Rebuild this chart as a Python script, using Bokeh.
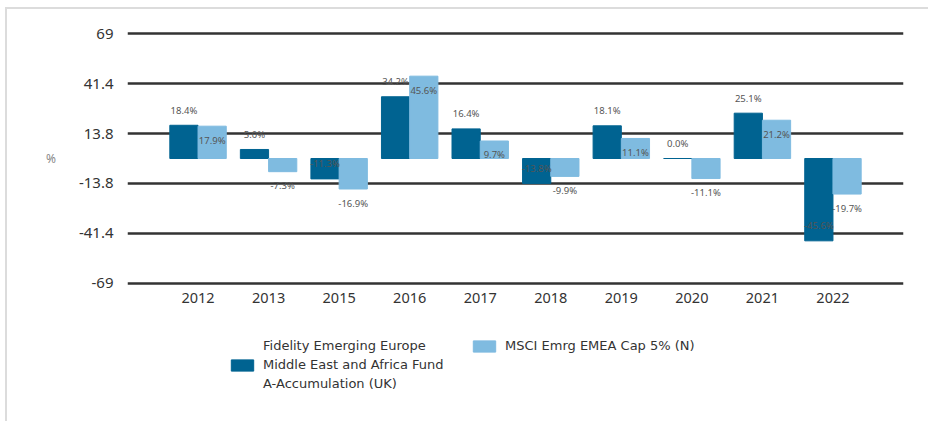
from bokeh.plotting import figure
from bokeh.layouts import column
from bokeh.core.properties import value
from bokeh.models import (ColumnDataSource, FactorRange, Range1d, FixedTicker,
                          LabelSet, Legend, LegendItem)
from bokeh.transform import dodge
from bokeh.embed import file_html
from bokeh.resources import INLINE

years = ["2012", "2013", "2015", "2016", "2017", "2018", "2019", "2020", "2021", "2022"]
fund = [18.4, 5.0, -11.3, 34.2, 16.4, -13.8, 18.1, 0.0, 25.1, -45.6]
index = [17.9, -7.3, -16.9, 45.6, 9.7, -9.9, 11.1, -11.1, 21.2, -19.7]
y_ticks = [-69, -41.4, -13.8, 13.8, 41.4, 69]
y_tick_labels = ["-69", "-41.4", "-13.8", "13.8", "41.4", "69"]
fund_name_lines = ["Fidelity Emerging Europe", "Middle East and Africa Fund", "A-Accumulation (UK)"]
index_name = "MSCI Emrg EMEA Cap 5% (N)"

DARK = "#006391"
LIGHT = "#7fbbe0"

src = ColumnDataSource(dict(
    year=years, fund=fund, index=index,
    fund_lbl=[f"{v:.1f}%" for v in fund],
    index_lbl=[f"{v:.1f}%" for v in index],
))

p = figure(
    width=921, height=311,
    x_range=FactorRange(factors=years, range_padding=0.1),
    y_range=Range1d(-72, 72),
    output_backend="svg", toolbar_location=None,
    min_border_left=120, min_border_right=25,
    min_border_top=19, min_border_bottom=32,
)
p.outline_line_color = None

r1 = p.vbar(x=dodge("year", -0.2, range=p.x_range), top="fund", width=0.4, source=src,
            fill_color=DARK, line_color=DARK, line_width=1)
r2 = p.vbar(x=dodge("year", 0.2, range=p.x_range), top="index", width=0.4, source=src,
            fill_color=LIGHT, line_color=LIGHT, line_width=1)

lbl_font = value("Noto Sans")
p.add_layout(LabelSet(x=dodge("year", -0.2, range=p.x_range), y="fund", text="fund_lbl",
                      source=src, y_offset=15, text_align="center", text_baseline="middle",
                      text_font=lbl_font, text_font_size="9.5px", text_color="#555555"))
p.add_layout(LabelSet(x=dodge("year", 0.2, range=p.x_range), y="index", text="index_lbl",
                      source=src, y_offset=-14, text_align="center", text_baseline="middle",
                      text_font=lbl_font, text_font_size="9.5px", text_color="#555555"))

# grid
p.xgrid.grid_line_color = None
p.ygrid.ticker = FixedTicker(ticks=y_ticks)
p.ygrid.grid_line_color = "#333333"
p.ygrid.grid_line_width = 2.6

# y axis
p.yaxis.ticker = FixedTicker(ticks=y_ticks)
p.yaxis.major_label_overrides = dict(zip(y_ticks, y_tick_labels))
p.yaxis.axis_line_color = None
p.yaxis.major_tick_line_color = None
p.yaxis.minor_tick_line_color = None
p.yaxis.major_tick_out = 0
p.yaxis.major_label_standoff = 14
p.yaxis.major_label_text_font = "Noto Sans"
p.yaxis.major_label_text_font_size = "15px"
p.yaxis.major_label_text_color = "#333333"
p.yaxis.axis_label = "%"
p.yaxis.axis_label_orientation = "horizontal"
p.yaxis.axis_label_standoff = 20
p.yaxis.axis_label_text_font = "Noto Sans"
p.yaxis.axis_label_text_font_style = "normal"
p.yaxis.axis_label_text_font_size = "12px"
p.yaxis.axis_label_text_color = "#888888"

# x axis
p.xaxis.axis_line_color = None
p.xaxis.major_tick_line_color = None
p.xaxis.minor_tick_line_color = None
p.xaxis.major_tick_out = 0
p.xaxis.major_label_standoff = 4
p.xaxis.major_label_text_font = "Noto Sans"
p.xaxis.major_label_text_font_size = "14.5px"
p.xaxis.major_label_text_color = "#333333"

# legend in its own strip below the chart
lg = figure(width=921, height=101, x_range=Range1d(0, 1), y_range=Range1d(0, 1),
            output_backend="svg", toolbar_location=None, min_border=0)
lg.axis.visible = False
lg.grid.grid_line_color = None
lg.outline_line_color = None
g1 = lg.vbar(x="fund", top="fund", width=0.4, source=src, fill_color=DARK,
             line_color=DARK, visible=False)
g2 = lg.vbar(x="index", top="index", width=0.4, source=src, fill_color=LIGHT,
             line_color=LIGHT, visible=False)
blank = lg.vbar(x="fund", top="fund", width=0.4, source=src, fill_alpha=0,
                line_alpha=0, visible=False)

common = dict(
    glyph_width=28, glyph_height=14, label_standoff=7, spacing=4,
    padding=0, margin=0, border_line_color=None, background_fill_alpha=0,
    label_text_font="DejaVu Sans", label_text_font_size="13px",
    label_text_color="#333333", click_policy="none",
)
legend_fund = Legend(
    items=[LegendItem(label=fund_name_lines[0], renderers=[blank]),
           LegendItem(label=fund_name_lines[1], renderers=[g1]),
           LegendItem(label=fund_name_lines[2], renderers=[blank])],
    orientation="vertical", location=(101, 30), **common,
)
legend_index = Legend(
    items=[LegendItem(label=index_name, renderers=[g2])],
    orientation="vertical", location=(343, 68), **common,
)
lg.add_layout(legend_fund, "center")
lg.add_layout(legend_index, "center")

page = column(p, lg, spacing=0,
              styles={"margin-left": "5px", "margin-top": "7px",
                      "border-left": "2px solid #dcdcdc", "border-top": "2px solid #dcdcdc"})

open("out.html", "w").write(file_html(page, INLINE))
